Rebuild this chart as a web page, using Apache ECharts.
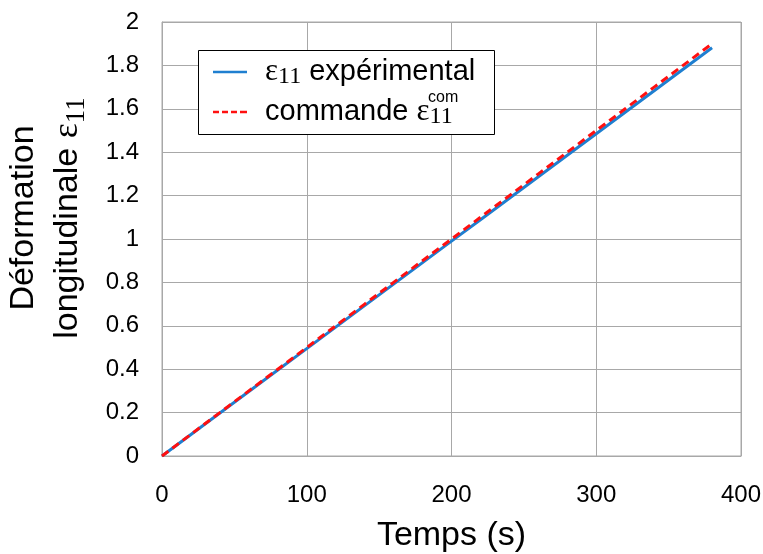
<!DOCTYPE html>
<html><head><meta charset="utf-8">
<script src="https://cdn.jsdelivr.net/npm/echarts@6/dist/echarts.min.js"></script>
<style>html,body{margin:0;padding:0;background:#fff}#c{width:763px;height:554px}</style>
</head><body><div id="c"></div>
<script>
var time = [0,20,40,60,80,100,120,140,160,180,200,220,240,260,280,300,320,340,360,380];
var epsExp = [0,0.099,0.198,0.297,0.396,0.495,0.594,0.693,0.792,0.891,0.990,1.089,1.188,1.287,1.386,1.485,1.584,1.683,1.782,1.881];
var epsCom = [0,0.100,0.200,0.300,0.400,0.500,0.600,0.700,0.800,0.900,1.000,1.100,1.200,1.300,1.400,1.500,1.600,1.700,1.800,1.900];
var xTicks = [0,100,200,300,400];
var yTicks = [0,0.2,0.4,0.6,0.8,1,1.2,1.4,1.6,1.8,2];
var nameExp = 'ε11 expérimental';
var nameCom = 'commande ε11com';

var chart = echarts.init(document.getElementById('c'));
var FONT = '"Liberation Sans", Arial, sans-serif';
var SERIF = '"Liberation Serif", "Times New Roman", serif';
var gridColor = '#a8a8a8';
var richLeg = {
  t: {fontFamily: FONT, fontSize: 29, color: '#000', lineHeight: 34},
  e: {fontFamily: SERIF, fontSize: 31, color: '#000', lineHeight: 34},
  s: {fontFamily: SERIF, fontSize: 24, color: '#000', lineHeight: 34, padding: [10,0,0,0], verticalAlign: 'bottom'}
};
function legFmt(n){
  return n === nameExp ? '{e|ε}{s|11}{t| expérimental}' : '{t|commande }{e|ε}{s|11}';
}
chart.setOption({
  animation: false,
  backgroundColor: '#fff',
  grid: {left: 162, right: 22, top: 22, bottom: 98, show: true, borderColor: gridColor, borderWidth: 1,
         containLabel: false, outerBoundsMode: 'none'},
  xAxis: {
    type: 'value', min: 0, max: 400, interval: 100,
    name: 'Temps (s)', nameLocation: 'middle', nameGap: 63,
    nameTextStyle: {fontFamily: FONT, fontSize: 34, color: '#000'},
    axisLine: {lineStyle: {color: gridColor}}, axisTick: {show: false},
    axisLabel: {fontFamily: FONT, fontSize: 24, color: '#000', margin: 27,
      formatter: function(v){ return xTicks.indexOf(v) >= 0 ? String(v) : ''; }},
    splitLine: {show: true, lineStyle: {color: gridColor, width: 1}}
  },
  yAxis: {
    type: 'value', min: 0, max: 2, interval: 0.2,
    name: '{t|Déformation}\n{t|longitudinale }{e|ε}{s|11}', nameLocation: 'middle', nameGap: 72, nameRotate: 90,
    nameTextStyle: {
      padding: [0, 0, 0, 42],
      rich: {
        t: {fontFamily: FONT, fontSize: 34, color: '#000', lineHeight: 44},
        e: {fontFamily: SERIF, fontSize: 36, color: '#000', lineHeight: 44},
        s: {fontFamily: SERIF, fontSize: 27, color: '#000', lineHeight: 44, padding: [12,0,0,0], verticalAlign: 'bottom'}
      }
    },
    axisLine: {show: true, lineStyle: {color: gridColor}}, axisTick: {show: false},
    axisLabel: {fontFamily: FONT, fontSize: 24, color: '#000', margin: 23,
      formatter: function(v){ var r = Math.round(v*10)/10; return yTicks.indexOf(r) >= 0 ? String(r) : ''; }},
    splitLine: {show: true, lineStyle: {color: gridColor, width: 1}}
  },
  legend: [
    {data: [nameExp], orient: 'vertical', left: 213, top: 55, padding: 0, itemWidth: 34, itemHeight: 14, itemGap: 0,
     icon: 'path://M0,6L34,6L34,8.5L0,8.5Z', z: 10,
     formatter: legFmt, textStyle: {rich: richLeg, padding: [0,0,0,13]}},
    {data: [nameCom], orient: 'vertical', left: 213, top: 95, padding: 0, itemWidth: 34, itemHeight: 14, itemGap: 0, z: 10,
     icon: 'path://M0,6h6v2.5h-6zM9,6h6v2.5h-6zM18,6h6v2.5h-6zM27,6h7v2.5h-7z',
     formatter: legFmt, textStyle: {rich: richLeg, padding: [0,0,0,13]}}
  ],
  graphic: [
    {type: 'rect', left: 198, top: 50, z: 5, shape: {width: 296, height: 84}, style: {fill: '#fff', stroke: '#000', lineWidth: 1}},
    {type: 'text', left: 428, top: 90, z: 11, style: {text: 'com', font: '16px ' + FONT, fill: '#000'}}
  ],
  series: [
    {name: nameExp, type: 'line', data: time.map(function(t,i){return [t, epsExp[i]];}), showSymbol: false,
     lineStyle: {color: '#1f7fd0', width: 3}, itemStyle: {color: '#1f7fd0'}, z: 2},
    {name: nameCom, type: 'line', data: time.map(function(t,i){return [t, epsCom[i]];}), showSymbol: false,
     lineStyle: {color: '#ff1010', width: 3, type: [8,5]}, itemStyle: {color: '#ff1010'}, z: 3}
  ]
});
</script></body></html>
